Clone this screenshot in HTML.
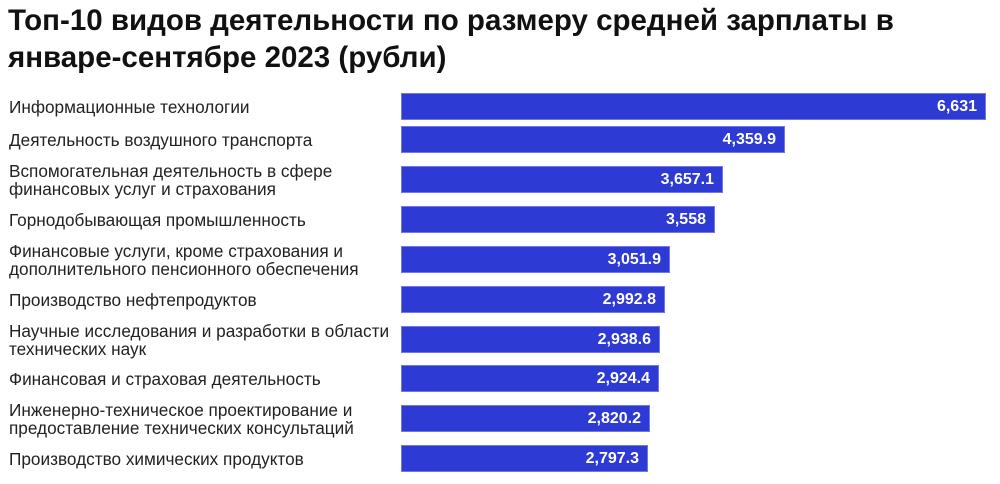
<!DOCTYPE html>
<html><head><meta charset="utf-8"><style>
body{margin:0;width:1000px;height:484px;background:#fff;font-family:"Liberation Sans","DejaVu Sans",sans-serif;position:relative;overflow:hidden}
h1{position:absolute;left:8px;top:2px;margin:0;font-size:29.5px;line-height:37px;font-weight:bold;color:#111;white-space:nowrap}
.l{position:absolute;left:9px;font-size:17.2px;line-height:18px;color:#222;white-space:nowrap}
.b{position:absolute;left:401px;height:27px;background:#2d3ad4;border:1px solid #6f78e6;box-sizing:border-box;color:#fff;font-weight:bold;font-size:16px;line-height:25px;text-align:right;padding-right:8px}
</style></head><body>
<h1>Топ-10 видов деятельности по размеру средней зарплаты в<br>январе-сентябре 2023 (рубли)</h1>
<div class="l" style="top:98px">Информационные технологии</div>
<div class="b" style="top:93px;width:585px">6,631</div>
<div class="l" style="top:131px">Деятельность воздушного транспорта</div>
<div class="b" style="top:126px;width:384px">4,359.9</div>
<div class="l" style="top:162px">Вспомогательная деятельность в сфере<br>финансовых услуг и страхования</div>
<div class="b" style="top:166px;width:322px">3,657.1</div>
<div class="l" style="top:211px">Горнодобывающая промышленность</div>
<div class="b" style="top:206px;width:314px">3,558</div>
<div class="l" style="top:242px">Финансовые услуги, кроме страхования и<br>дополнительного пенсионного обеспечения</div>
<div class="b" style="top:246px;width:269px">3,051.9</div>
<div class="l" style="top:291px">Производство нефтепродуктов</div>
<div class="b" style="top:286px;width:264px">2,992.8</div>
<div class="l" style="top:322px">Научные исследования и разработки в области<br>технических наук</div>
<div class="b" style="top:326px;width:259px">2,938.6</div>
<div class="l" style="top:370px">Финансовая и страховая деятельность</div>
<div class="b" style="top:365px;width:258px">2,924.4</div>
<div class="l" style="top:401px">Инженерно-техническое проектирование и<br>предоставление технических консультаций</div>
<div class="b" style="top:405px;width:249px">2,820.2</div>
<div class="l" style="top:450px">Производство химических продуктов</div>
<div class="b" style="top:445px;width:247px">2,797.3</div>
</body></html>
